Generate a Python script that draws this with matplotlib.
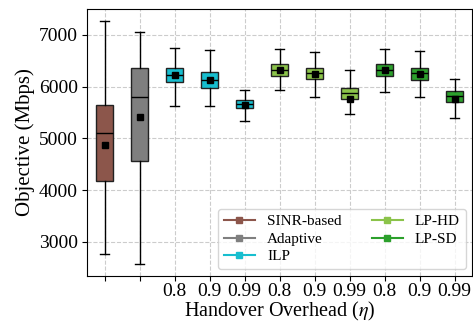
import matplotlib.pyplot as plt
from matplotlib.lines import Line2D

plt.rcParams['font.family'] = ['Liberation Serif', 'DejaVu Serif']
plt.rcParams['mathtext.fontset'] = 'stix'

# box statistics (Mbps)
labels = ["", "", "0.8", "0.9", "0.99", "0.8", "0.9", "0.99", "0.8", "0.9", "0.99"]
whislo = [2770, 2580, 5620, 5620, 5330, 5940, 5810, 5480, 5900, 5810, 5400]
q1 = [4170, 4570, 6100, 5980, 5580, 6210, 6150, 5770, 6210, 6130, 5710]
med = [5100, 5810, 6230, 6130, 5670, 6330, 6270, 5880, 6330, 6270, 5830]
q3 = [5654, 6370, 6370, 6290, 5750, 6440, 6370, 5980, 6440, 6370, 5920]
whishi = [7270, 7060, 6750, 6710, 5940, 6730, 6670, 6330, 6730, 6690, 6150]
means = [4880, 5420, 6230, 6130, 5640, 6330, 6250, 5770, 6330, 6250, 5770]

methods = ["SINR-based", "Adaptive", "ILP", "LP-HD", "LP-SD"]
method_colors = ["#8c564b", "#7f7f7f", "#17becf", "#8bc34a", "#2ca02c"]
box_method = [0, 1, 2, 2, 2, 3, 3, 3, 4, 4, 4]

stats = []
for i in range(len(labels)):
    stats.append(dict(whislo=whislo[i], q1=q1[i], med=med[i], q3=q3[i],
                      whishi=whishi[i], mean=means[i], fliers=[]))

fig = plt.figure(figsize=(4.73, 3.25), dpi=100)
ax = fig.add_axes([0.184, 0.152, 0.814, 0.820])

positions = list(range(1, len(labels) + 1))
bp = ax.bxp(stats, positions=positions, widths=0.5, patch_artist=True,
            showmeans=True, showfliers=False,
            medianprops=dict(color="black", linewidth=1),
            meanprops=dict(marker="s", markerfacecolor="black",
                           markeredgecolor="black", markersize=4),
            whiskerprops=dict(color="black", linewidth=1),
            capprops=dict(color="black", linewidth=1),
            boxprops=dict(edgecolor="#222222", linewidth=1))
for patch, m in zip(bp["boxes"], box_method):
    patch.set_facecolor(method_colors[m])

ax.set_xticks(positions)
ax.set_xticklabels(labels)
ax.set_xlim(0.5, 11.5)
ax.set_ylim(2350, 7500)
ax.set_yticks([3000, 4000, 5000, 6000, 7000])
ax.tick_params(axis="y", labelsize=14, pad=3)
ax.tick_params(axis="x", labelsize=14, pad=2)
ax.grid(True, linestyle="--", color="#cccccc", linewidth=0.8)
ax.set_axisbelow(True)
ax.set_xlabel(r"Handover Overhead ($\eta$)", fontsize=14.5, labelpad=0)
ax.set_ylabel("Objective (Mbps)", fontsize=15, labelpad=3)

handles = [Line2D([0], [0], color=c, marker="s", markersize=5) for c in method_colors]
ax.legend(handles, methods, loc="lower right", ncol=2, fontsize=11,
          borderaxespad=0.4, columnspacing=2.0, handletextpad=0.8,
          labelspacing=0.25)

fig.savefig("out.png", dpi=100)
